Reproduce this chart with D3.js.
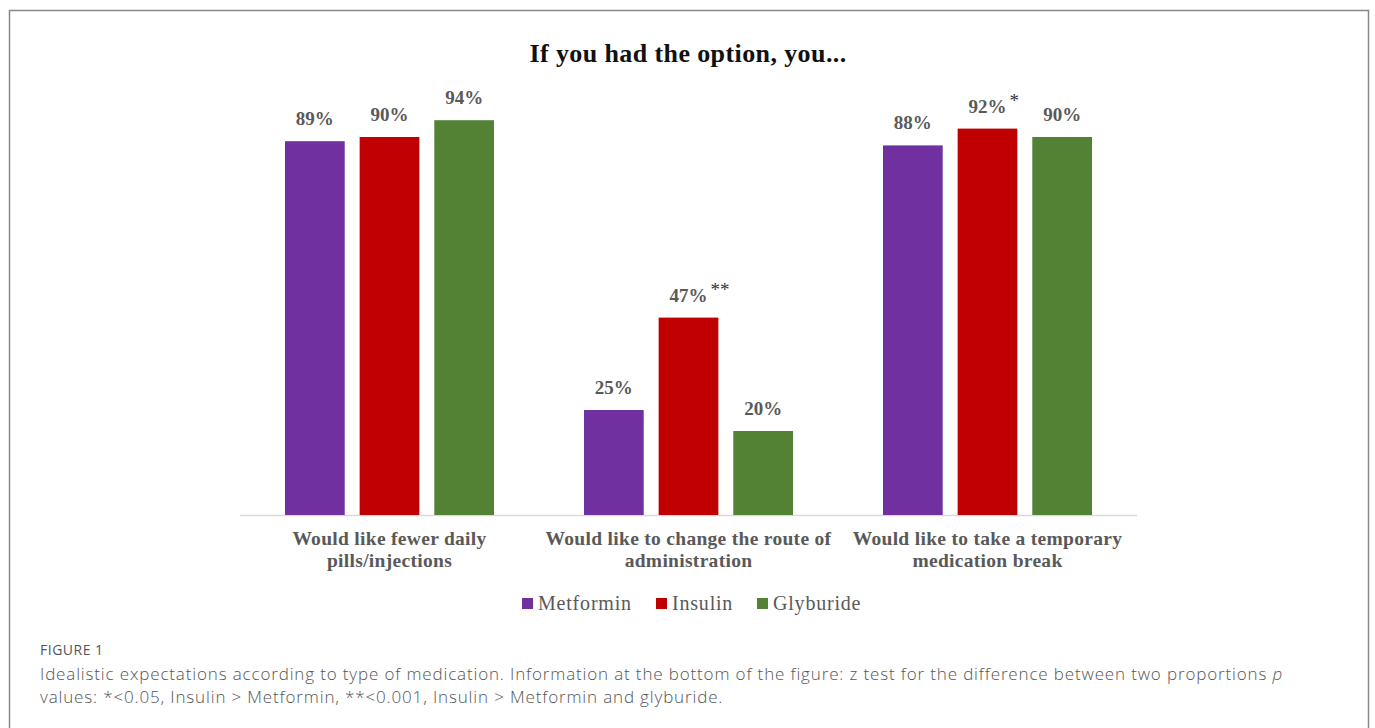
<!DOCTYPE html>
<html>
<head>
<meta charset="utf-8">
<script src="https://cdn.jsdelivr.net/npm/d3@7"></script>
<style>
  body { margin: 0; background: #fff; }
  svg { display: block; }
</style>
</head>
<body>
<svg id="chart" width="1375" height="728"></svg>
<script>
// chart data
var categories = [
    ["Would like fewer daily", "pills/injections"],
    ["Would like to change the route of", "administration"],
    ["Would like to take a temporary", "medication break"]
];
var seriesNames = ["Metformin", "Insulin", "Glyburide"];
var seriesColors = ["#7030a0", "#c00000", "#548235"];
var metformin = [89, 25, 88];
var insulin = [90, 47, 92];
var glyburide = [94, 20, 90];
var insulinMarks = ["", "**", "*"];

var svg = d3.select("#chart");

// outer frame
svg.append("rect")
    .attr("x", 9.5)
    .attr("y", 10.5)
    .attr("width", 1359)
    .attr("height", 740)
    .attr("fill", "none")
    .attr("stroke", "#888")
    .attr("stroke-width", 1.5);

var x0 = d3.scaleBand()
    .domain(d3.range(categories.length))
    .range([240, 1137]);

var x1 = d3.scaleBand()
    .domain(seriesNames)
    .range([45, 254])
    .paddingInner(0.2);

var y = d3.scaleLinear()
    .domain([0, 100])
    .range([515, 95]);

var rows = [];
categories.forEach(function(c, i)
{
    rows.push({cat: i, series: "Metformin", value: metformin[i], mark: ""});
    rows.push({cat: i, series: "Insulin", value: insulin[i], mark: insulinMarks[i]});
    rows.push({cat: i, series: "Glyburide", value: glyburide[i], mark: ""});
});

var color = d3.scaleOrdinal().domain(seriesNames).range(seriesColors);

var serif = "'Liberation Serif', 'Times New Roman', serif";

// title
svg.append("text")
    .attr("x", 688)
    .attr("y", 62)
    .attr("text-anchor", "middle")
    .style("font-family", serif)
    .style("font-weight", "bold")
    .style("font-size", "26px")
    .style("letter-spacing", "0.4px")
    .attr("fill", "#111")
    .text("If you had the option, you...");

// baseline
svg.append("line")
    .attr("x1", x0.range()[0])
    .attr("x2", x0.range()[1])
    .attr("y1", y(0) + 0.5)
    .attr("y2", y(0) + 0.5)
    .attr("stroke", "#d9d9d9")
    .attr("stroke-width", 1.5);

var bar = svg.append("g").selectAll("g")
    .data(rows)
    .enter().append("g");

bar.append("rect")
    .attr("x", function(d) { return x0(d.cat) + x1(d.series); })
    .attr("y", function(d) { return y(d.value); })
    .attr("width", x1.bandwidth())
    .attr("height", function(d) { return y(0) - y(d.value); })
    .attr("fill", function(d) { return color(d.series); });

bar.append("text")
    .attr("x", function(d) { return x0(d.cat) + x1(d.series) + x1.bandwidth() / 2; })
    .attr("y", function(d) { return y(d.value) - 16; })
    .attr("text-anchor", "middle")
    .style("font-family", serif)
    .style("font-weight", "bold")
    .style("font-size", "19px")
    .attr("fill", "#595959")
    .text(function(d) { return d.value + "%"; });

bar.filter(function(d) { return d.mark; })
    .append("text")
    .attr("x", function(d) { return x0(d.cat) + x1(d.series) + x1.bandwidth() / 2 + 22; })
    .attr("y", function(d) { return y(d.value) - 22; })
    .style("font-family", serif)
    .style("font-size", "19px")
    .attr("fill", "#333")
    .text(function(d) { return d.mark; });

// category labels
var catLabel = svg.append("g").selectAll("text")
    .data(categories)
    .enter().append("text")
    .attr("x", function(d, i) { return x0(i) + x0.bandwidth() / 2; })
    .attr("y", 545)
    .attr("text-anchor", "middle")
    .style("font-family", serif)
    .style("font-weight", "bold")
    .style("font-size", "19.5px")
    .style("letter-spacing", "0.3px")
    .attr("fill", "#595959");

catLabel.selectAll("tspan")
    .data(function(d) { return d; })
    .enter().append("tspan")
    .attr("x", function() { return d3.select(this.parentNode).attr("x"); })
    .attr("dy", function(d, i) { return i == 0 ? 0 : 22; })
    .text(function(d) { return d; });

// legend
var legendX = [522, 656, 757];
var legend = svg.append("g").selectAll("g")
    .data(seriesNames)
    .enter().append("g")
    .attr("transform", function(d, i) { return "translate(" + legendX[i] + ",598)"; });

legend.append("rect")
    .attr("width", 11)
    .attr("height", 11)
    .attr("fill", function(d) { return color(d); });

legend.append("text")
    .attr("x", 16)
    .attr("y", 12)
    .style("font-family", serif)
    .style("font-size", "20px")
    .style("letter-spacing", "0.8px")
    .attr("fill", "#595959")
    .text(function(d) { return d; });

// caption
svg.append("text")
    .attr("x", 40)
    .attr("y", 655)
    .style("font-family", "'Open Sans', 'Noto Sans', sans-serif")
    .style("font-size", "14px")
    .style("letter-spacing", "0.5px")
    .attr("fill", "#555")
    .text("FIGURE 1");

var cap = svg.append("text")
    .attr("x", 40)
    .attr("y", 680)
    .style("font-family", "'Open Sans', 'Noto Sans', sans-serif")
    .style("font-size", "17px")
    .style("letter-spacing", "0.85px")
    .style("font-weight", 300)
    .attr("fill", "#555");

cap.append("tspan")
    .text("Idealistic expectations according to type of medication. Information at the bottom of the figure: z test for the difference between two proportions ");
cap.append("tspan")
    .style("font-style", "italic")
    .text("p");
cap.append("tspan")
    .attr("x", 40)
    .attr("dy", 23)
    .text("values: *<0.05, Insulin > Metformin, **<0.001, Insulin > Metformin and glyburide.");
</script>
</body>
</html>
